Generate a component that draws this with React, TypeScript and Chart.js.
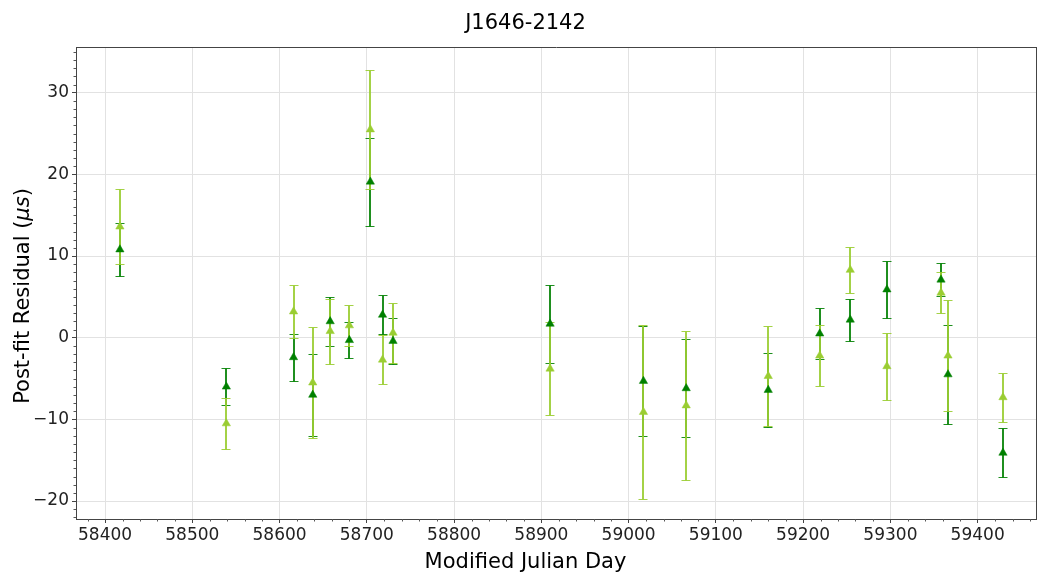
import React, { useEffect, useRef } from 'react';
import { Chart, registerables } from 'chart.js';

Chart.register(...registerables);

const TITLE = 'J1646-2142';
const X_LABEL = 'Modified Julian Day';
const Y_LABEL_PRE = 'Post-fit Residual (';
const Y_LABEL_IT = 'μs';
const Y_LABEL_POST = ')';

// Observation epochs (MJD)
const mjd = [58417, 58539, 58616, 58638, 58658, 58680, 58704, 58718, 58730, 58910, 59017, 59066, 59160, 59219, 59254, 59296, 59358, 59366, 59429];

// Dark green series residuals and uncertainties (µs)
const darkRes = [10.8, -6.0, -2.4, -7.0, 2.0, -0.3, 19.1, 2.8, -0.4, 1.7, -5.3, -6.2, -6.4, 0.5, 2.2, 5.9, 7.1, -4.5, -14.1];
const darkErr = [3.3, 2.3, 2.9, 5.0, 3.0, 2.2, 5.4, 2.4, 2.8, 4.8, 6.7, 6.0, 4.5, 3.1, 2.6, 3.5, 2.0, 6.1, 3.0];

// Light green series residuals and uncertainties (µs)
const lightRes = [13.6, -10.5, 3.2, -5.5, 0.8, 1.5, 25.5, -2.7, 0.6, -3.8, -9.1, -8.3, -4.7, -2.2, 8.3, -3.5, 5.5, -2.2, -7.3];
const lightErr = [4.6, 3.1, 3.2, 6.8, 4.0, 2.5, 7.3, 3.0, 3.7, 5.7, 10.6, 9.1, 6.1, 3.7, 2.8, 4.1, 2.5, 6.8, 3.0];

const xTickValues = [58400, 58500, 58600, 58700, 58800, 58900, 59000, 59100, 59200, 59300, 59400];
const yTickValues = [-20, -10, 0, 10, 20, 30];

const X_MIN = 58366.7;
const X_MAX = 59468;
const Y_MIN = -22.2;
const Y_MAX = 35.6;
const X_MINOR_STEP = 20;
const Y_MINOR_STEP = 1;

const DARK = '#008000';
const LIGHT = '#9acd32';
const FONT = "'DejaVu Sans', sans-serif";

const series = [
  { values: darkRes, errs: darkErr, color: DARK, bar: 'rgba(0,128,0,0.88)' },
  { values: lightRes, errs: lightErr, color: LIGHT, bar: 'rgba(154,205,50,0.9)' },
];

const errorBarPlugin = {
  id: 'errorBars',
  beforeDatasetsDraw(chart: any) {
    const { ctx, chartArea, scales } = chart;
    const x = scales.x;
    const y = scales.y;
    ctx.save();
    ctx.beginPath();
    ctx.rect(chartArea.left, chartArea.top, chartArea.right - chartArea.left, chartArea.bottom - chartArea.top);
    ctx.clip();
    series.forEach((s) => {
      ctx.strokeStyle = s.bar;
      s.values.forEach((v, i) => {
        const px = Math.round(x.getPixelForValue(mjd[i]));
        const top = Math.round(y.getPixelForValue(v + s.errs[i])) + 0.5;
        const bot = Math.round(y.getPixelForValue(v - s.errs[i])) + 0.5;
        ctx.lineWidth = 2;
        ctx.beginPath();
        ctx.moveTo(px, top);
        ctx.lineTo(px, bot);
        ctx.stroke();
        ctx.lineWidth = 1;
        ctx.beginPath();
        ctx.moveTo(px - 4.5, top);
        ctx.lineTo(px + 4.5, top);
        ctx.moveTo(px - 4.5, bot);
        ctx.lineTo(px + 4.5, bot);
        ctx.stroke();
      });
    });
    ctx.restore();
  },
};

const decorPlugin = {
  id: 'decor',
  afterDraw(chart: any) {
    const { ctx, chartArea, scales } = chart;
    const x = scales.x;
    const y = scales.y;
    const { left, right, top, bottom } = chartArea;
    ctx.save();
    // frame (top and right spines)
    ctx.strokeStyle = '#444';
    ctx.lineWidth = 1;
    ctx.beginPath();
    const t = Math.round(top) + 0.5;
    const r = Math.round(right) - 0.5;
    ctx.moveTo(Math.round(left), t);
    ctx.lineTo(r + 0.5, t);
    ctx.moveTo(r, t);
    ctx.lineTo(r, Math.round(bottom));
    ctx.stroke();
    // minor ticks
    ctx.strokeStyle = '#555';
    ctx.beginPath();
    const xStart = Math.ceil(X_MIN / X_MINOR_STEP) * X_MINOR_STEP;
    for (let v = xStart; v <= X_MAX; v += X_MINOR_STEP) {
      if (v % 100 === 0) continue;
      const px = Math.round(x.getPixelForValue(v)) + 0.5;
      ctx.moveTo(px, bottom);
      ctx.lineTo(px, bottom + 2.5);
    }
    const yStart = Math.ceil(Y_MIN / Y_MINOR_STEP) * Y_MINOR_STEP;
    for (let v = yStart; v <= Y_MAX; v += Y_MINOR_STEP) {
      if (v % 10 === 0) continue;
      const py = Math.round(y.getPixelForValue(v)) + 0.5;
      ctx.moveTo(left, py);
      ctx.lineTo(left - 2.5, py);
    }
    ctx.stroke();

    // title
    ctx.fillStyle = '#000';
    ctx.textAlign = 'center';
    ctx.textBaseline = 'alphabetic';
    ctx.font = `21px ${FONT}`;
    ctx.fillText(TITLE, 525.5, 29);
    // x label
    ctx.fillText(X_LABEL, 525.5, 568);

    // y label (rotated, with italic unit)
    ctx.translate(28.5, 296);
    ctx.rotate(-Math.PI / 2);
    ctx.textAlign = 'left';
    ctx.font = `21px ${FONT}`;
    const w1 = ctx.measureText(Y_LABEL_PRE).width;
    const w3 = ctx.measureText(Y_LABEL_POST).width;
    ctx.font = `italic 21px ${FONT}`;
    const w2 = ctx.measureText(Y_LABEL_IT).width;
    let cx = -(w1 + w2 + w3) / 2;
    ctx.font = `21px ${FONT}`;
    ctx.fillText(Y_LABEL_PRE, cx, 0);
    cx += w1;
    ctx.font = `italic 21px ${FONT}`;
    ctx.fillText(Y_LABEL_IT, cx, 0);
    cx += w2;
    ctx.font = `21px ${FONT}`;
    ctx.fillText(Y_LABEL_POST, cx, 0);
    ctx.restore();
  },
};

export default function App() {
  const canvasRef = useRef<HTMLCanvasElement | null>(null);

  useEffect(() => {
    const canvas = canvasRef.current;
    if (!canvas) return;
    Chart.defaults.font.family = FONT;
    const chart = new Chart(canvas, {
      type: 'scatter',
      data: {
        datasets: series.map((s, si) => ({
          label: si === 0 ? 'dark' : 'light',
          data: s.values.map((v, i) => ({ x: mjd[i], y: v })),
          backgroundColor: s.color,
          borderColor: s.color,
          borderWidth: 0.5,
          pointStyle: 'triangle',
          pointRadius: 4.8,
          pointHoverRadius: 4.8,
          clip: false as any,
        })),
      },
      options: {
        animation: false,
        responsive: false,
        devicePixelRatio: 1,
        events: [],
        layout: { autoPadding: false, padding: { left: 0, top: 47, right: 0, bottom: 0 } },
        plugins: {
          legend: { display: false },
          tooltip: { enabled: false },
          title: { display: false },
        },
        scales: {
          x: {
            type: 'linear',
            min: X_MIN,
            max: X_MAX,
            afterBuildTicks: (scale: any) => {
              scale.ticks = xTickValues.map((v) => ({ value: v }));
            },
            afterFit: (scale: any) => {
              scale.height = 54;
              scale.paddingLeft = 0;
              scale.paddingRight = 0;
            },
            ticks: {
              autoSkip: false,
              maxRotation: 0,
              padding: 2,
              color: '#222',
              font: { size: 17, family: FONT },
              callback: (v: any) => String(v),
            },
            grid: {
              color: '#e2e2e2',
              lineWidth: 1,
              drawTicks: true,
              tickLength: 4,
              tickColor: '#444',
              tickWidth: 1,
            },
            border: { display: true, color: '#444', width: 1 },
          },
          y: {
            type: 'linear',
            min: Y_MIN,
            max: Y_MAX,
            afterBuildTicks: (scale: any) => {
              scale.ticks = yTickValues.map((v) => ({ value: v }));
            },
            afterFit: (scale: any) => {
              scale.width = 76;
              scale.paddingTop = 0;
              scale.paddingBottom = 0;
            },
            ticks: {
              autoSkip: false,
              padding: 3,
              color: '#222',
              font: { size: 17, family: FONT },
              callback: (v: any) => (v < 0 ? '\u2212' + String(-v) : String(v)),
            },
            grid: {
              color: '#e2e2e2',
              lineWidth: 1,
              drawTicks: true,
              tickLength: 4,
              tickColor: '#444',
              tickWidth: 1,
            },
            border: { display: true, color: '#444', width: 1 },
          },
        },
      },
      plugins: [errorBarPlugin, decorPlugin],
    } as any);
    return () => chart.destroy();
  }, []);

  return (
    <div style={{ position: 'fixed', left: 0, top: 0, width: 1037, height: 573, background: '#fff' }}>
      <canvas ref={canvasRef} width={1037} height={573} style={{ display: 'block', width: 1037, height: 573 }} />
    </div>
  );
}
